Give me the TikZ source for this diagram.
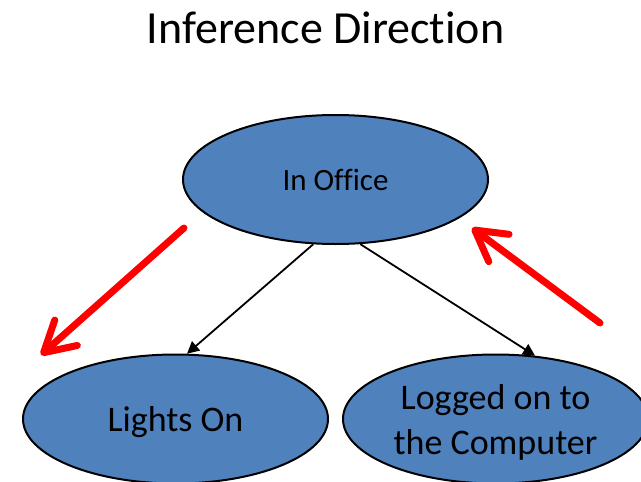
\documentclass[tikz,border=0pt]{standalone}
\usepackage{fontspec}
\setmainfont{Carlito}[Ligatures=NoCommon]
\usetikzlibrary{shapes.geometric,arrows.meta}
\definecolor{nodeblue}{HTML}{4F81BD}

\begin{document}
\begin{tikzpicture}[x=1pt, y=-1pt,
    state/.style={ellipse, draw=black, line width=2pt, fill=nodeblue,
                  minimum width=305pt, minimum height=129pt, inner sep=0pt, align=center},
    link/.style={line width=1.8pt, -{Triangle[length=12pt, width=12pt]}},
    infer/.style={red, line width=7pt, line cap=round,
                  -{Straight Barb[length=30pt, width=34pt, round]}}]
    \useasboundingbox (0,0) rectangle (641,482);

    \node[anchor=base, font=\fontsize{46}{55}\selectfont] (title) at (325.5,43) {Inference Direction};

    \node[state, font=\fontsize{31}{37}\selectfont] (office) at (335.5,179.5) {In Office};
    \node[state, text depth=0pt, font=\fontsize{36}{45}\selectfont] (lights) at (175.5,419) {Lights On};
    \node[state, text depth=0pt, font=\fontsize{36}{45}\selectfont] (logged) at (495.5,419) {Logged on to\\the Computer};

    \draw[link] (office.-109.5) -- (lights.80.7);
    \draw[link] (office.-69) -- (logged.58.3);

    % direction of inference
    \coordinate (downstart) at (184,228);
    \coordinate (downend) at (41,355);
    \coordinate (upstart) at (600,323);
    \coordinate (upend) at (472,228);
    \draw[infer] (downstart) -- (downend);
    \draw[infer] (upstart) -- (upend);
\end{tikzpicture}
\end{document}
